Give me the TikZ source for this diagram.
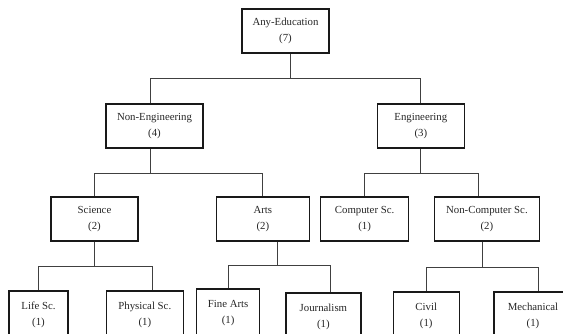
\documentclass[tikz,border=0pt]{standalone}
\usepackage{fontspec}
\setmainfont{Liberation Serif}
\usepackage{tikz}
\usetikzlibrary{positioning}

\tikzset{
  box/.style={draw=black!90, line width=1.3pt, align=center, inner sep=2pt,
    minimum height=44pt, text=black!85,
    font=\fontsize{10.8}{16}\selectfont},
  leafbox/.style={box, minimum height=48pt},
  link/.style={draw=black!75, line width=1pt}
}

\begin{document}
\begin{tikzpicture}[x=1pt, y=1pt]
    \useasboundingbox (0,0) rectangle (563,-334);
    \clip (0,0) rectangle (563,-334);
    % set up the nodes
    \node[box, minimum width=87pt] (Any) at (285.5,-31) {Any-Education\\(7)};
    \node[box, minimum width=97pt] (NonEng) at (154.5,-126) {Non-Engineering\\(4)};
    \node[box, minimum width=87pt, right=173pt of NonEng] (Eng) {Engineering\\(3)};
    \node[box, minimum width=87pt] (Sci) at (94.5,-219) {Science\\(2)};
    \node[box, minimum width=93pt, right=77pt of Sci] (Arts) {Arts\\(2)};
    \node[box, minimum width=88pt, right=10pt of Arts] (CompSc) {Computer Sc.\\(1)};
    \node[box, minimum width=105pt, right=24.5pt of CompSc] (NonCompSc) {Non-Computer Sc.\\(2)};
    \node[leafbox, minimum width=59pt] (Life) at (38.5,-315) {Life Sc.\\(1)};
    \node[leafbox, minimum width=77pt, right=37pt of Life] (Phys) {Physical Sc.\\(1)};
    \node[leafbox, minimum width=63pt, right=12pt of Phys, yshift=2pt] (Fine) {Fine Arts\\(1)};
    \node[leafbox, minimum width=75pt, right=25pt of Fine, yshift=-4pt] (Journ) {Journalism\\(1)};
    \node[leafbox, minimum width=66pt, right=31pt of Journ, yshift=1pt] (Civil) {Civil\\(1)};
    \node[leafbox, minimum width=78pt] (Mech) at (533,-316) {Mechanical\\(1)};
    % draw the lines between them
    \draw[link] ([xshift=4.5pt]Any.south) -- ++(0,-25) coordinate (jAny);
    \draw[link] ([xshift=-4.5pt]NonEng.north) |- (jAny) -| (Eng.north);
    \draw[link] ([xshift=-4.5pt]NonEng.south) -- ++(0,-24.5) coordinate (jNonEng);
    \draw[link] (Sci.north) |- (jNonEng) -| (Arts.north);
    \draw[link] (Eng.south) -- ++(0,-25) coordinate (jEng);
    \draw[link] (CompSc.north) |- (jEng) -| ([xshift=-8.5pt]NonCompSc.north);
    \draw[link] (Sci.south) -- ++(0,-25) coordinate (jSci);
    \draw[link] (Life.north) |- (jSci) -| ([xshift=7.5pt]Phys.north);
    \draw[link] ([xshift=15pt]Arts.south) -- ++(0,-24) coordinate (jArts);
    \draw[link] (Fine.north) |- (jArts) -| ([xshift=7.5pt]Journ.north);
    \draw[link] ([xshift=-4.5pt]NonCompSc.south) -- ++(0,-25.5) coordinate (jNonComp);
    \draw[link] (Civil.north) |- (jNonComp) -| ([xshift=5pt]Mech.north);
\end{tikzpicture}
\end{document}
